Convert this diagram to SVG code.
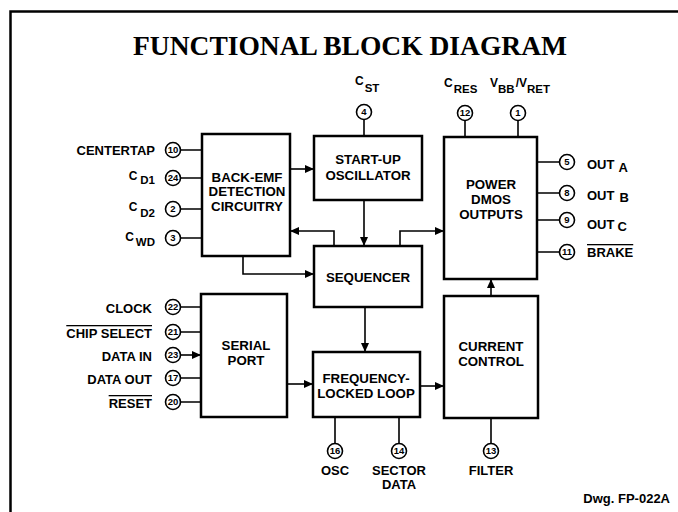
<svg xmlns="http://www.w3.org/2000/svg" width="678" height="512" viewBox="0 0 678 512">
<defs>
<marker id="ah" markerUnits="userSpaceOnUse" markerWidth="10" markerHeight="8" refX="9" refY="4" orient="auto">
<path d="M0,0 L9,4 L0,8 Z" fill="#000"/>
</marker>
<style>
.blk{fill:#fff;stroke:#000;stroke-width:2.5}
.bt{font-family:"Liberation Sans",Arial,sans-serif;font-weight:bold;font-size:13.3px;text-anchor:middle;fill:#000}
.lb{font-family:"Liberation Sans",Arial,sans-serif;font-weight:bold;font-size:13px;fill:#000}
.sm{font-family:"Liberation Sans",Arial,sans-serif;font-weight:bold;font-size:12px;fill:#000}
.sub{font-size:11.5px}
.pc{fill:#fff;stroke:#000;stroke-width:1.6}
.pn{font-family:"Liberation Sans",Arial,sans-serif;font-weight:bold;font-size:9.5px;text-anchor:middle;fill:#000}
.pl{fill:none;stroke:#000;stroke-width:1.6}
.cn{fill:none;stroke:#000;stroke-width:1.6}
.ol{text-decoration:overline}
.e{text-anchor:end}
.m{text-anchor:middle}
</style>
</defs>
<rect width="678" height="512" fill="#fff"/>
<path d="M10.5,512 V11.5 H678" fill="none" stroke="#000" stroke-width="2.5"/>
<text x="350" y="55" font-family="'Liberation Serif','Times New Roman',serif" font-weight="bold" font-size="27" text-anchor="middle" textLength="434" lengthAdjust="spacingAndGlyphs">FUNCTIONAL BLOCK DIAGRAM</text>

<g id="connectors">
<path class="cn" d="M290,169 H314" marker-end="url(#ah)"/>
<path class="cn" d="M334,246 V231 H290" marker-end="url(#ah)"/>
<path class="cn" d="M243,256 V274 H314" marker-end="url(#ah)"/>
<path class="cn" d="M364,200 V246" marker-end="url(#ah)"/>
<path class="cn" d="M400,246 V231 H444" marker-end="url(#ah)"/>
<path class="cn" d="M365,307 V352" marker-end="url(#ah)"/>
<path class="cn" d="M287,384 H313" marker-end="url(#ah)"/>
<path class="cn" d="M420,386 H444" marker-end="url(#ah)"/>
<path class="cn" d="M491,296 V279" marker-end="url(#ah)"/>
<!-- pin leads -->
<path class="pl" d="M180.5,150 H202 M180.5,178 H202 M180.5,209 H202 M180.5,238 H202"/>
<path class="pl" d="M180.5,307 H201 M180.5,332 H201 M180.5,378 H201 M180.5,402 H201"/>
<path class="pl" d="M180.5,355 H201" marker-end="url(#ah)"/>
<path class="pl" d="M364,119.5 V136 M465,120.5 V137 M518,120.5 V137"/>
<path class="pl" d="M537,162 H559.5 M537,193 H559.5 M537,220 H559.5 M537,252 H559.5"/>
<path class="pl" d="M335,417 V443.5 M399,417 V443.5 M491,418 V443.5"/>
</g>

<g id="back-emf">
<rect class="blk" x="202" y="134" width="88" height="122"/>
<text class="bt" x="247" y="182">BACK-EMF</text>
<text class="bt" x="247" y="196">DETECTION</text>
<text class="bt" x="247" y="211">CIRCUITRY</text>
</g>
<g id="start-up">
<rect class="blk" x="314" y="136" width="108" height="64"/>
<text class="bt" x="368" y="164">START-UP</text>
<text class="bt" x="368" y="180">OSCILLATOR</text>
</g>
<g id="sequencer">
<rect class="blk" x="314" y="246" width="108" height="61"/>
<text class="bt" x="368" y="282">SEQUENCER</text>
</g>
<g id="power-dmos">
<rect class="blk" x="444" y="137" width="93" height="142"/>
<text class="bt" x="491" y="189">POWER</text>
<text class="bt" x="491" y="204">DMOS</text>
<text class="bt" x="491" y="219">OUTPUTS</text>
</g>
<g id="serial-port">
<rect class="blk" x="201" y="294" width="86" height="123"/>
<text class="bt" x="246" y="350">SERIAL</text>
<text class="bt" x="246" y="365">PORT</text>
</g>
<g id="fll">
<rect class="blk" x="313" y="352" width="107" height="65"/>
<text class="bt" x="366" y="383">FREQUENCY-</text>
<text class="bt" x="366" y="398">LOCKED LOOP</text>
</g>
<g id="current-control">
<rect class="blk" x="444" y="296" width="94" height="122"/>
<text class="bt" x="491" y="351">CURRENT</text>
<text class="bt" x="491" y="366">CONTROL</text>
</g>

<g id="pin-10"><circle class="pc" cx="173" cy="150" r="7.5"/><text class="pn" x="173" y="153.3">10</text><text class="lb e" x="155" y="155">CENTERTAP</text></g>
<g id="pin-24"><circle class="pc" cx="173" cy="178" r="7.5"/><text class="pn" x="173" y="181.3">24</text><text class="sm e" x="155" y="180">C<tspan class="sub" dx="3" dy="4">D1</tspan></text></g>
<g id="pin-2"><circle class="pc" cx="173" cy="209" r="7.5"/><text class="pn" x="173" y="212.3">2</text><text class="sm e" x="155" y="211">C<tspan class="sub" dx="3" dy="6">D2</tspan></text></g>
<g id="pin-3"><circle class="pc" cx="173" cy="238" r="7.5"/><text class="pn" x="173" y="241.3">3</text><text class="sm e" x="155" y="241">C<tspan class="sub" dx="2" dy="5">WD</tspan></text></g>

<g id="pin-22"><circle class="pc" cx="173" cy="307" r="7.5"/><text class="pn" x="173" y="310.3">22</text><text class="lb e" x="152" y="313">CLOCK</text></g>
<g id="pin-21"><circle class="pc" cx="173" cy="332" r="7.5"/><text class="pn" x="173" y="335.3">21</text><text class="lb e ol" x="152" y="338">CHIP SELECT</text></g>
<g id="pin-23"><circle class="pc" cx="173" cy="355" r="7.5"/><text class="pn" x="173" y="358.3">23</text><text class="lb e" x="152" y="361">DATA IN</text></g>
<g id="pin-17"><circle class="pc" cx="173" cy="378" r="7.5"/><text class="pn" x="173" y="381.3">17</text><text class="lb e" x="152" y="384">DATA OUT</text></g>
<g id="pin-20"><circle class="pc" cx="173" cy="402" r="7.5"/><text class="pn" x="173" y="405.3">20</text><text class="lb e ol" x="152" y="408">RESET</text></g>

<g id="pin-4"><circle class="pc" cx="364" cy="112" r="7.5"/><text class="pn" x="364" y="115.3">4</text><text class="sm" x="355" y="85">C<tspan class="sub" dx="1" dy="7">ST</tspan></text></g>
<g id="pin-12"><circle class="pc" cx="465" cy="113" r="7.5"/><text class="pn" x="465" y="116.3">12</text><text class="sm" x="444" y="87">C<tspan class="sub" dx="1" dy="6">RES</tspan></text></g>
<g id="pin-1"><circle class="pc" cx="518" cy="113" r="7.5"/><text class="pn" x="518" y="116.3">1</text><text class="sm" x="490" y="87">V<tspan class="sub" dy="6">BB</tspan><tspan dx="1" dy="-6">/V</tspan><tspan class="sub" dy="6">RET</tspan></text></g>

<g id="pin-5"><circle class="pc" cx="567" cy="162" r="7.5"/><text class="pn" x="567" y="165.3">5</text><text class="lb" x="587" y="169">OUT<tspan dx="5" dy="3">A</tspan></text></g>
<g id="pin-8"><circle class="pc" cx="567" cy="193" r="7.5"/><text class="pn" x="567" y="196.3">8</text><text class="lb" x="587" y="200">OUT<tspan dx="5" dy="2">B</tspan></text></g>
<g id="pin-9"><circle class="pc" cx="567" cy="220" r="7.5"/><text class="pn" x="567" y="223.3">9</text><text class="lb" x="587" y="229">OUT<tspan dx="3" dy="2">C</tspan></text></g>
<g id="pin-11"><circle class="pc" cx="567" cy="252" r="7.5"/><text class="pn" x="567" y="255.3">11</text><text class="lb ol" x="587" y="257">BRAKE</text></g>

<g id="pin-16"><circle class="pc" cx="335" cy="451" r="7.5"/><text class="pn" x="335" y="454.3">16</text><text class="lb m" x="335" y="475">OSC</text></g>
<g id="pin-14"><circle class="pc" cx="399" cy="451" r="7.5"/><text class="pn" x="399" y="454.3">14</text><text class="lb m" x="399" y="475">SECTOR</text><text class="lb m" x="399" y="489">DATA</text></g>
<g id="pin-13"><circle class="pc" cx="491" cy="451" r="7.5"/><text class="pn" x="491" y="454.3">13</text><text class="lb m" x="491" y="475">FILTER</text></g>

<text class="lb e" x="670" y="503" font-size="11.5">Dwg. FP-022A</text>
</svg>
